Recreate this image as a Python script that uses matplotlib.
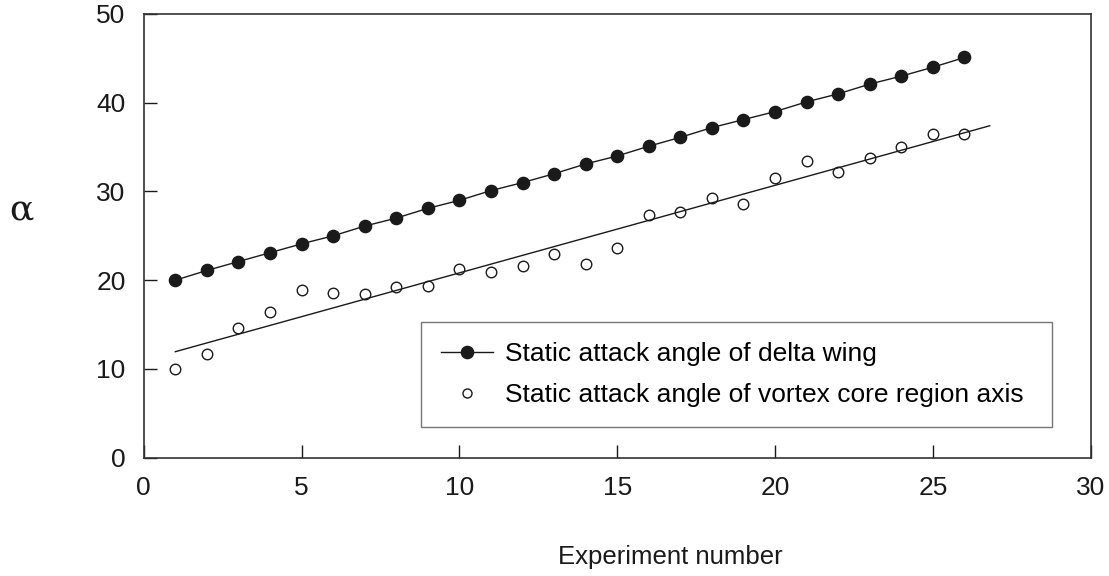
import numpy as np
import matplotlib
matplotlib.use("Agg")
import matplotlib.pyplot as plt

# data
exp_no = np.arange(1, 27)
delta_wing = [20.0, 21.1, 22.1, 23.1, 24.1, 25.0, 26.1, 27.0, 28.1, 29.0, 30.1, 31.0, 32.0,
              33.1, 34.0, 35.1, 36.1, 37.2, 38.1, 39.0, 40.1, 41.0, 42.1, 43.0, 44.0, 45.1]
vortex_core = [10.0, 11.65, 14.6, 16.4, 18.9, 18.6, 18.45, 19.2, 19.35, 21.3, 20.9, 21.6, 22.95,
               21.8, 23.6, 27.4, 27.7, 29.3, 28.6, 31.55, 33.4, 32.2, 33.8, 35.0, 36.5, 36.5]
fit_range = [1.0, 26.8]

plt.rcParams['font.family'] = ['Liberation Sans', 'DejaVu Sans']
plt.rcParams['xtick.direction'] = 'in'
plt.rcParams['ytick.direction'] = 'in'
ink = '#1a1a1a'

fig = plt.figure(figsize=(11.09, 5.76), dpi=100)
ax = fig.add_axes([0.1296, 0.2054, 0.8539, 0.7703])

ax.plot(exp_no, delta_wing, '-o', color=ink, lw=1.0, ms=8.8, mfc=ink, mec=ink,
        label='Static attack angle of delta wing')
ax.plot(exp_no, vortex_core, 'o', color=ink, ms=7.6, mfc='white', mec=ink, mew=1.0,
        label='Static attack angle of vortex core region axis')

# linear trend of the vortex core points
k, b = np.polyfit(exp_no, vortex_core, 1)
xf = np.array(fit_range)
ax.plot(xf, k * xf + b, '-', color=ink, lw=1.0)

ax.set_xlim(0, 30)
ax.set_ylim(0, 50)
ax.set_xticks(range(0, 31, 5))
ax.set_yticks(range(0, 51, 10))
ax.tick_params(direction='in', length=9.5, width=1.0, labelsize=19, pad=13, colors=ink,
               top=False, right=False)
for s in ax.spines.values():
    s.set_color('#333333')
    s.set_linewidth(1.2)

leg = ax.legend(loc='lower left', bbox_to_anchor=(0.2925, 0.069, 0.6667, 0.23), mode='expand',
                borderaxespad=0, fontsize=19, frameon=True, fancybox=False, handlelength=2.0,
                labelspacing=0.65, borderpad=0.75, handletextpad=0.45)
leg.get_frame().set_edgecolor('#555555')
leg.get_frame().set_linewidth(1.0)
for h in leg.legend_handles:
    if h.get_markerfacecolor() == 'white':
        h.set_markersize(6.5)

fig.text(0.019, 1 - 210 / 576, 'α', fontsize=26, family='DejaVu Serif', color=ink,
         ha='center', va='center')
fig.text(670 / 1109, 1 - 557 / 576, 'Experiment number', fontsize=18.5, color=ink,
         ha='center', va='center')

fig.savefig('out.png', dpi=100)
